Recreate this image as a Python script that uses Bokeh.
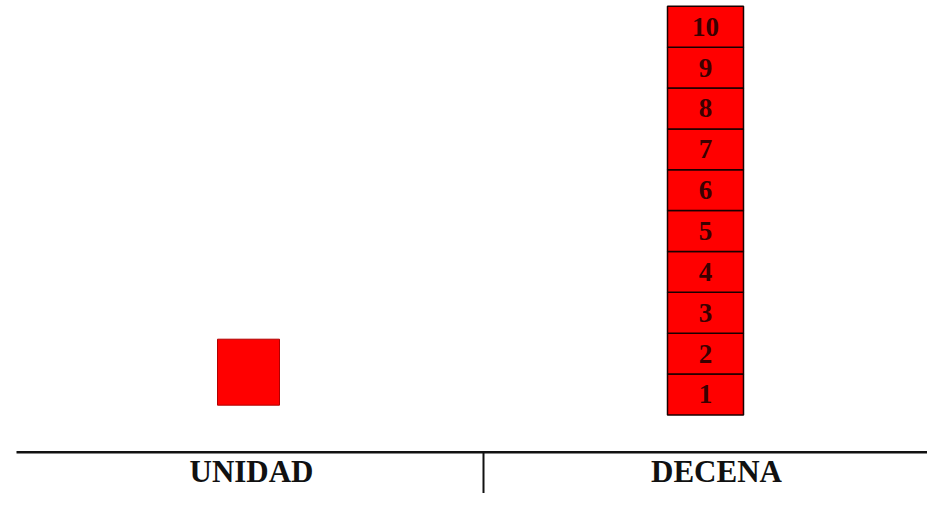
from bokeh.plotting import figure
from bokeh.models import Range1d, ColumnDataSource
from bokeh.core.properties import value
from bokeh.embed import file_html
from bokeh.resources import INLINE

# ---- data ----
categories = ["UNIDAD", "DECENA"]
unidad_values = [1]
decena_values = [1, 2, 3, 4, 5, 6, 7, 8, 9, 10]
decena_labels = ["1", "2", "3", "4", "5", "6", "7", "8", "9", "10"]

# ---- layout (pixel-like data space, y downward) ----
W, H = 927, 493
p = figure(width=W, height=H, output_backend="svg", toolbar_location=None,
           x_range=Range1d(0, W), y_range=Range1d(512, 4),
           min_border=0)
p.axis.visible = False
p.grid.visible = False
p.outline_line_color = None
p.background_fill_color = "white"
p.border_fill_color = "white"

# decena tower
blk_h = 42.1
base_y = 431
tx0, tx1 = 667, 743
tops = [base_y - v * blk_h for v in decena_values]
bots = [base_y - (v - 1) * blk_h for v in decena_values]
src = ColumnDataSource(dict(left=[tx0] * len(decena_values), right=[tx1] * len(decena_values),
                            top=tops, bottom=bots,
                            xc=[(tx0 + tx1) / 2] * len(decena_values),
                            yc=[(t + b) / 2 for t, b in zip(tops, bots)],
                            lab=decena_labels))
p.quad(left="left", right="right", top="top", bottom="bottom", source=src,
       fill_color="#ff0000", line_color="#1a0000", line_width=1.5)
p.text(x="xc", y="yc", text="lab", source=src, text_align="center",
       text_baseline="middle", text_font=value("Liberation Serif"),
       text_font_style="bold", text_font_size="27px", text_color="#3a0000")

# unidad square
uh = 68
ux0, ux1 = 217, 279
u_bottom = 421
p.quad(left=[ux0] * len(unidad_values), right=[ux1] * len(unidad_values),
       top=[u_bottom - v * uh for v in unidad_values],
       bottom=[u_bottom - (v - 1) * uh for v in unidad_values],
       fill_color="#ff0000", line_color="#b00000", line_width=1)

# table lines
p.segment(x0=[16], y0=[469.5], x1=[950], y1=[469.5], line_color="#111111", line_width=2.5)
p.segment(x0=[483], y0=[469.5], x1=[483], y1=[515], line_color="#111111", line_width=2)

# category labels
p.text(x=[251, 716], y=[489, 489], text=categories, text_align="center",
       text_baseline="middle", text_font=value("Liberation Serif"),
       text_font_style="bold", text_font_size="31px", text_color="#111111")

open("out.html", "w").write(file_html(p, INLINE))
